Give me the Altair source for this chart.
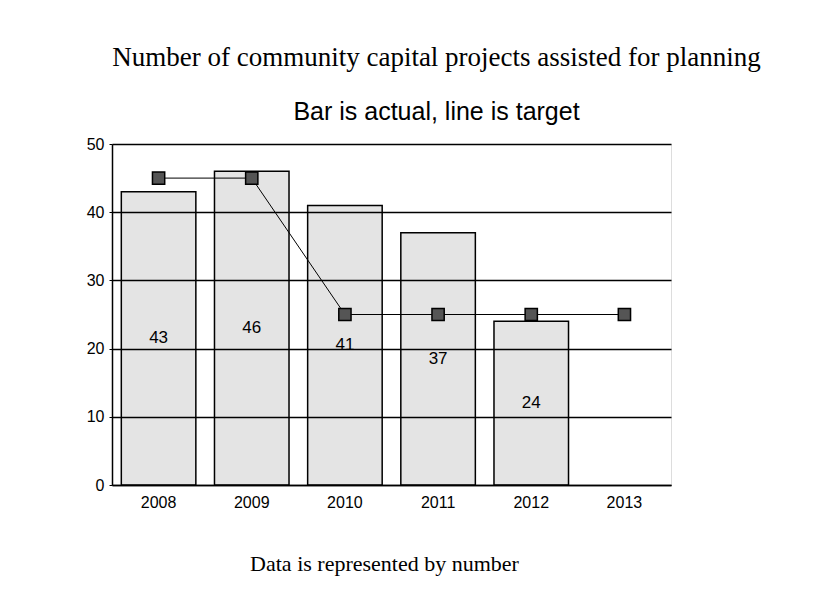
import altair as alt
import pandas as pd

years = ["2008", "2009", "2010", "2011", "2012", "2013"]
actual = [43, 46, 41, 37, 24, None]
target = [45, 45, 25, 25, 25, 25]

df = pd.DataFrame({"year": years, "actual": actual, "target": target})

x = alt.X("year:N", sort=years,
          scale=alt.Scale(paddingInner=0.2, paddingOuter=0.1),
          axis=alt.Axis(title="Data is represented by number", labelAngle=0,
                        labelFont="Liberation Sans", labelFontSize=16, labelColor="black",
                        labelPadding=9, ticks=False, domainColor="black", domainWidth=1.5,
                        titleFont="Liberation Serif", titleFontSize=22, titleFontWeight="normal",
                        titleColor="black", titlePadding=43, titleX=272))
y = alt.Y("actual:Q", scale=alt.Scale(domain=[0, 50]),
          axis=alt.Axis(title=None, values=[0, 10, 20, 30, 40, 50], grid=True,
                        gridColor="black", gridOpacity=1, gridWidth=1.3, zindex=1,
                        domainColor="black", domainWidth=1.5, tickColor="black", tickSize=3,
                        labelFont="Liberation Sans", labelFontSize=16, labelColor="black",
                        labelPadding=5))

bars = alt.Chart(df).mark_bar(fill="#e4e4e4", stroke="black", strokeWidth=1.5).encode(x=x, y=y)

labels = alt.Chart(df).transform_filter("datum.actual != null").transform_calculate(
    mid="datum.actual / 2").mark_text(font="Liberation Sans", fontSize=17, color="black").encode(
    x=alt.X("year:N", sort=years), y=alt.Y("mid:Q"), text="actual:Q")

line = alt.Chart(df).mark_line(color="black", strokeWidth=1).encode(
    x=alt.X("year:N", sort=years), y=alt.Y("target:Q"))
pts = alt.Chart(df).mark_point(shape="square", filled=True, size=150, fill="#555555",
                               stroke="black", strokeWidth=1.5, opacity=1).encode(
    x=alt.X("year:N", sort=years), y=alt.Y("target:Q"))

chart = alt.layer(bars, labels, line, pts).properties(
    width=559, height=341,
    title=alt.TitleParams(text="Number of community capital projects assisted for planning",
                          subtitle="Bar is actual, line is target",
                          font="Liberation Serif", fontSize=27, fontWeight="normal", color="black",
                          subtitleFont="Liberation Sans", subtitleFontSize=25, subtitleColor="black",
                          subtitlePadding=28, offset=10, dx=45, anchor="middle"),
    autosize=alt.AutoSizeParams(type="none"),
    padding={"left": 104, "top": 136, "right": 151, "bottom": 96},
).configure_view(stroke="black", strokeWidth=1.5).configure(background="white")

chart.save("out.html", embed_options={"renderer": "svg", "actions": False})
